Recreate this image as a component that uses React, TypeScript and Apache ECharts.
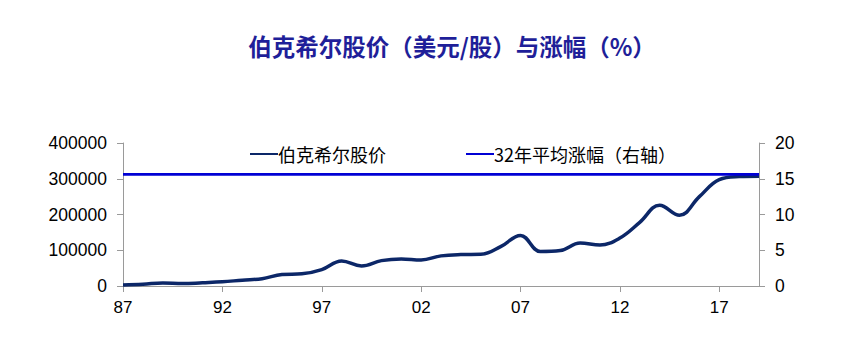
import React, { useEffect, useRef } from "react";
import * as echarts from "echarts";

const years = [
  "87", "88", "89", "90", "91", "92", "93", "94", "95", "96", "97",
  "98", "99", "00", "01", "02", "03", "04", "05", "06", "07", "08",
  "09", "10", "11", "12", "13", "14", "15", "16", "17", "18", "19",
];

const brkPrice = [
  2950, 4700, 8675, 6675, 9050, 11750, 16325, 20400, 32100, 34100, 46000,
  70000, 56100, 71000, 75800, 72750, 84250, 87900, 88620, 109990, 141600, 96600,
  99200, 120450, 114755, 134060, 177900, 226000, 197800, 250000, 297600, 306000, 307000,
];

const avgGrowth = [
  15.6, 15.6, 15.6, 15.6, 15.6, 15.6, 15.6, 15.6, 15.6, 15.6, 15.6,
  15.6, 15.6, 15.6, 15.6, 15.6, 15.6, 15.6, 15.6, 15.6, 15.6, 15.6,
  15.6, 15.6, 15.6, 15.6, 15.6, 15.6, 15.6, 15.6, 15.6, 15.6, 15.6,
];

const titleText = "伯克希尔股价（美元/股）与涨幅（%）";
const seriesNames = ["伯克希尔股价", "32年平均涨幅（右轴）"];

export default function App() {
  const ref = useRef<HTMLDivElement>(null);
  useEffect(() => {
    if (!ref.current) return;
    const chart = echarts.init(ref.current, null, { renderer: "svg" });
    const axisColor = "#9a9a9a";
    chart.setOption({
      animation: false,
      backgroundColor: "#ffffff",
      title: {
        text: titleText,
        left: 447,
        textAlign: "center",
        top: 29,
        textStyle: {
          fontFamily: "Noto Sans CJK SC",
          fontSize: 23.5,
          fontWeight: "bold",
          color: "#1f1f99",
        },
      },
      legend: {
        left: 245,
        top: 140,
        itemWidth: 28,
        itemHeight: 10,
        itemGap: 80,
        icon: "path://M0,4 L28,4 L28,6 L0,6 Z",
        textStyle: {
          fontFamily: "Noto Sans CJK SC",
          fontSize: 18,
          color: "#000000",
          padding: [0, 0, 0, -5],
        },
        data: [
          { name: seriesNames[0], itemStyle: { color: "#0c2768" } },
          { name: seriesNames[1], itemStyle: { color: "#0000d4" } },
        ],
      },
      grid: { left: 123, right: 82, top: 143, bottom: 65 },
      xAxis: {
        type: "category",
        data: years,
        boundaryGap: false,
        axisLine: { show: true, lineStyle: { color: axisColor, width: 1 } },
        axisTick: { show: true, interval: 4, length: 6, lineStyle: { color: axisColor } },
        axisLabel: {
          interval: 4,
          margin: 13,
          fontFamily: "Liberation Sans Narrow, Liberation Sans, Arial",
          fontSize: 17,
          color: "#000000",
        },
        splitLine: { show: false },
      },
      yAxis: [
        {
          type: "value",
          min: 0,
          max: 400000,
          interval: 100000,
          axisLine: { show: true, lineStyle: { color: axisColor, width: 1 } },
          axisTick: { show: true, length: 6, lineStyle: { color: axisColor } },
          axisLabel: {
            margin: 16,
            fontFamily: "Liberation Sans, Arial",
            fontSize: 17.5,
            color: "#000000",
            formatter: (v: number) => String(v),
          },
          splitLine: { show: false },
        },
        {
          type: "value",
          min: 0,
          max: 20,
          interval: 5,
          position: "right",
          axisLine: { show: true, lineStyle: { color: axisColor, width: 1 } },
          axisTick: { show: true, length: 6, lineStyle: { color: axisColor } },
          axisLabel: {
            margin: 16,
            fontFamily: "Liberation Sans, Arial",
            fontSize: 17.5,
            color: "#000000",
          },
          splitLine: { show: false },
        },
      ],
      series: [
        {
          name: seriesNames[0],
          type: "line",
          data: brkPrice,
          yAxisIndex: 0,
          smooth: 0.4,
          symbol: "none",
          lineStyle: { color: "#0c2768", width: 3.5 },
          itemStyle: { color: "#0c2768" },
        },
        {
          name: seriesNames[1],
          type: "line",
          data: avgGrowth,
          yAxisIndex: 1,
          symbol: "none",
          lineStyle: { color: "#0000d4", width: 2.8 },
          itemStyle: { color: "#0000d4" },
        },
      ],
    });
    return () => chart.dispose();
  }, []);
  return <div ref={ref} style={{ width: 841, height: 351, margin: -8 }} />;
}
